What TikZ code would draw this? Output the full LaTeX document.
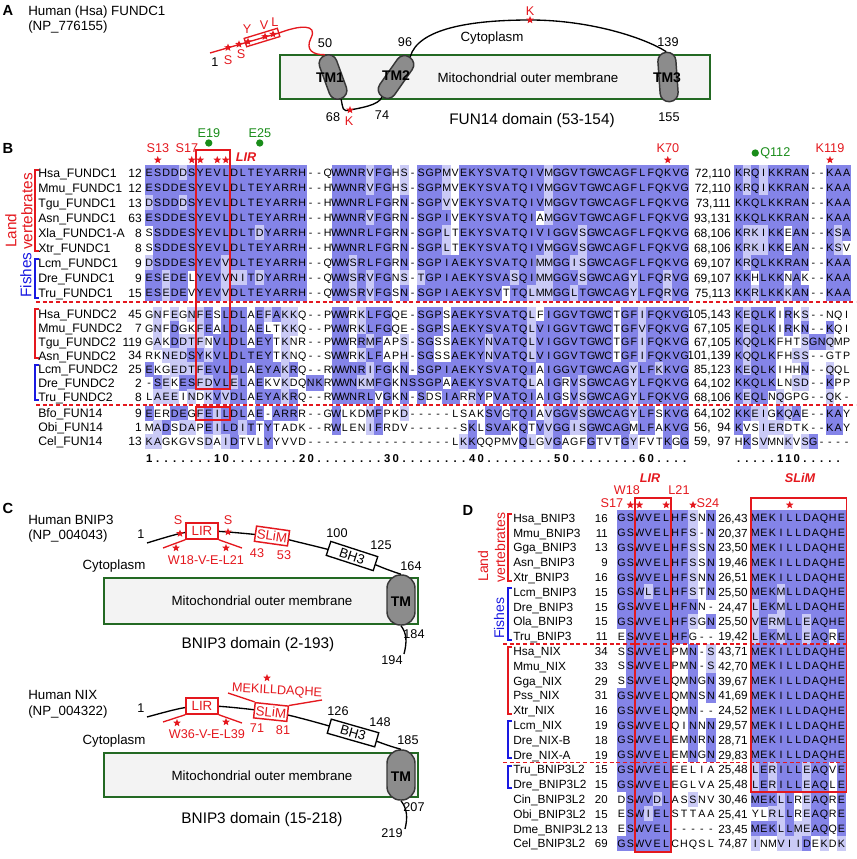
\documentclass[tikz,border=0pt]{standalone}
\usepackage{fontspec}
\setmainfont{Liberation Sans}
\usetikzlibrary{shapes.geometric}

\definecolor{alnred}{RGB}{228,24,30}
\definecolor{alnblue}{RGB}{25,25,225}
\definecolor{alngreen}{RGB}{25,140,25}
\definecolor{alndark}{RGB}{132,132,232}
\definecolor{alnlight}{RGB}{202,202,246}
\definecolor{memedge}{RGB}{35,105,35}
\definecolor{memfill}{RGB}{243,243,243}
\definecolor{tmfill}{RGB}{140,140,140}
\definecolor{tmedge}{RGB}{55,55,55}

\newcommand\alnhw{4.25}
\newcommand\alnhh{7.5}
\newcommand\alnpass{1}
\newcommand\alncell[5]{%
  \ifnum\alnpass=1
    \ifnum#5>0
      \ifnum#5=2 \def\alnc{alndark}\else\def\alnc{alnlight}\fi
      \fill[fill=\alnc] (#2-\alnhw-0.15,#3-\alnhh-0.15) rectangle (#2+\alnhw+0.15,#3+\alnhh+0.15);%
    \fi
  \else
    \node[res] (#1) at (#2,#3+3.8) {#4};%
  \fi}

\ExplSyntaxOn
\str_const:Nn \c_aln_pos_str
  { ,AS,SA,RK,KR,RQ,QR,ND,DN,NH,HN,NS,SN,DE,ED,QE,EQ,QK,KQ,EK,KE,HY,YH,IL,LI,IM,MI,IV,VI,LM,ML,LV,VL,MV,VM,FW,WF,FY,YF,ST,TS,WY,YW, }
\clist_const:Nn \c_aln_letters_clist { A,C,D,E,F,G,H,I,K,L,M,N,P,Q,R,S,T,V,W,Y }
\clist_map_inline:Nn \c_aln_letters_clist { \int_new:c { l__aln_n_#1_int } }
\seq_new:N \l__aln_y_seq
\seq_new:N \l__aln_s_seq
\tl_new:N \l__aln_row_tl
\tl_new:N \l__aln_ch_tl
\tl_new:N \l__aln_cons_tl
\tl_new:N \l__aln_y_tl
\int_new:N \l__aln_max_int
\int_new:N \l__aln_tot_int
\int_new:N \l__aln_lev_int
\int_new:N \l__aln_ncol_int
\cs_new_protected:Npn \__aln_block:nnnnnn #1#2#3#4#5#6
  {
    \seq_set_from_clist:Nn \l__aln_y_seq {#5}
    \seq_set_from_clist:Nn \l__aln_s_seq {#6}
    \tl_set:Nx \l__aln_row_tl { \seq_item:Nn \l__aln_s_seq {1} }
    \int_set:Nn \l__aln_ncol_int { \tl_count:N \l__aln_row_tl }
    \int_step_inline:nn { \l__aln_ncol_int }
      {
        \clist_map_inline:Nn \c_aln_letters_clist
          { \int_zero:c { l__aln_n_####1_int } }
        \int_zero:N \l__aln_tot_int
        \seq_map_inline:Nn \l__aln_s_seq
          {
            \tl_set:Nx \l__aln_ch_tl { \str_item:nn {####1} {##1} }
            \str_if_eq:eeF { \l__aln_ch_tl } { - }
              {
                \int_incr:c { l__aln_n_ \l__aln_ch_tl _int }
                \int_incr:N \l__aln_tot_int
              }
          }
        \int_zero:N \l__aln_max_int
        \tl_set:Nn \l__aln_cons_tl { ? }
        \clist_map_inline:Nn \c_aln_letters_clist
          {
            \int_compare:nNnT { \int_use:c { l__aln_n_####1_int } } > { \l__aln_max_int }
              {
                \int_set:Nn \l__aln_max_int { \int_use:c { l__aln_n_####1_int } }
                \tl_set:Nx \l__aln_cons_tl { \tl_to_str:n {####1} }
              }
          }
        \int_compare:nNnT { \l__aln_max_int * 100 } < { #4 * \l__aln_tot_int }
          { \tl_set:Nn \l__aln_cons_tl { ? } }
        \int_step_inline:nn { \seq_count:N \l__aln_s_seq }
          {
            \tl_set:Nx \l__aln_row_tl { \seq_item:Nn \l__aln_s_seq {####1} }
            \tl_set:Nx \l__aln_ch_tl { \str_item:Nn \l__aln_row_tl {##1} }
            \tl_set:Nx \l__aln_y_tl { \seq_item:Nn \l__aln_y_seq {####1} }
            \int_zero:N \l__aln_lev_int
            \str_if_eq:eeTF { \l__aln_ch_tl } { \l__aln_cons_tl }
              { \int_set:Nn \l__aln_lev_int {2} }
              {
                \exp_args:NNx \tl_if_in:NnT \c_aln_pos_str
                  { , \l__aln_ch_tl \l__aln_cons_tl , }
                  { \int_set:Nn \l__aln_lev_int {1} }
              }
            \use:x
              {
                \exp_not:N \alncell { #1 - ####1 - ##1 }
                  { \fp_eval:n { #2 + ( ##1 - 1 ) * ( #3 ) } }
                  { \l__aln_y_tl }
                  { \l__aln_ch_tl }
                  { \int_use:N \l__aln_lev_int }
              }
          }
      }
  }
\NewDocumentCommand \alnblock { m m m m m m }
  {
    \renewcommand \alnpass {1}
    \__aln_block:nnnnnn {#1} {#2} {#3} {#4} {#5} {#6}
    \renewcommand \alnpass {2}
    \__aln_block:nnnnnn {#1} {#2} {#3} {#4} {#5} {#6}
  }
\ExplSyntaxOff

\tikzset{
  res/.style={anchor=base, inner sep=0pt, font=\fontsize{8}{8}\selectfont},
  seqname/.style={anchor=base west, inner sep=0pt, font=\fontsize{9.2}{10}\selectfont},
  seqnum/.style={anchor=base east, inner sep=0pt, font=\fontsize{9}{10}\selectfont},
  ruler/.style={anchor=base, inner sep=0pt, font=\bfseries\fontsize{8.5}{9}\selectfont},
  panel/.style={inner sep=0pt, font=\bfseries\fontsize{11}{12}\selectfont},
  heading/.style={anchor=west, inner sep=0pt, font=\fontsize{10}{12}\selectfont},
  txt/.style={inner sep=0pt, font=\fontsize{10}{12}\selectfont},
  lbl/.style={inner sep=0pt, font=\fontsize{9.5}{11}\selectfont},
  redlbl/.style={lbl, text=alnred},
  motif/.style={inner sep=0pt, text=alnred, font=\bfseries\itshape\fontsize{9.5}{11}\selectfont},
  redstar/.style={star, star points=5, star point ratio=2.3, fill=alnred, inner sep=0pt, minimum size=6pt},
  greendot/.style={circle, fill=alngreen, inner sep=0pt, minimum size=5.5pt},
  membrane/.style={draw=memedge, fill=memfill, line width=1.1pt},
  tmpill/.style={draw=tmedge, fill=tmfill, line width=1.1pt, minimum width=13.5pt, rounded corners=6.5pt, inner sep=0pt},
  tmtext/.style={inner sep=0pt, font=\bfseries\fontsize{10.5}{12}\selectfont},
  redbox/.style={draw=alnred, line width=1.1pt, fill=white, inner sep=0pt, text=alnred, font=\fontsize{10}{12}\selectfont},
  bhbox/.style={draw, line width=1pt, fill=white, inner sep=0pt, minimum width=37pt, minimum height=11pt, font=\fontsize{10}{12}\selectfont},
  domtext/.style={inner sep=0pt, font=\fontsize{11.5}{13}\selectfont},
  backbone/.style={line width=1pt},
  sepline/.style={alnred, dash pattern=on 3pt off 2pt, line width=1pt},
  motifbox/.style={draw=alnred, line width=1.2pt},
  bracket/.style={line width=1.1pt},
  grouplbl/.style={rotate=90, anchor=west, inner sep=0pt, font=\fontsize{11.5}{12}\selectfont},
}

\begin{document}
\begin{tikzpicture}[x=0.75pt,y=-0.75pt]
\useasboundingbox (0,0) rectangle (856,859);

\node[panel] (pA) at (8,10) {A};
\node[heading] (tA1) at (28,12) {Human (Hsa) FUNDC1};
\node[heading] (tA2) at (28,27) {(NP\_776155)};
\draw[membrane] (280,55) rectangle (710,99);
\node[txt] (memA) at (528,78) {Mitochondrial outer membrane};
\node[txt] (cytA) at (492,38) {Cytoplasm};
\node[domtext] (domA) at (532,121) {FUN14 domain (53-154)};
\node[tmpill, minimum height=34.5pt, rotate=20] (tm1) at (333,77) {};
\node[tmpill, minimum height=36pt, rotate=-35] (tm2) at (396,77) {};
\node[tmpill, minimum height=37pt, rotate=4] (tm3) at (668,77) {};
\node[tmtext] (tm1l) at (330,78) {TM1};
\node[tmtext] (tm2l) at (396,76) {TM2};
\node[tmtext] (tm3l) at (667,78) {TM3};
\coordinate (ntA) at (210,53);
\coordinate (kA1) at (350,110);
\coordinate (kA2) at (530,20);
\draw[backbone, alnred] (ntA) -- (279,33) .. controls (300,25) and (318,24) .. (311,38) .. controls (305,50) and (313,55) .. (tm1.north);
\draw[backbone] (tm1.south) .. controls +(2,9) and +(-8,2) .. (kA1) .. controls +(10,-2) and +(-3,8) .. (tm2.south);
\draw[backbone] (tm2.north) .. controls +(8,-28) and +(-60,0) .. (kA2) .. controls +(60,0) and +(-22,-14) .. (tm3.north);
\foreach \x/\y/\n in {228/47.6/1, 239/44.3/2, 248/41.7/3, 265/36.6/4, 273/34.2/5}
  \node[redstar] (sA\n) at (\x,\y) {};
\node[redstar] (sk1) at (kA1) {};
\node[redstar] (sk2) at (kA2) {};
\node[draw=alnred, line width=1pt, minimum width=26pt, minimum height=6.5pt, inner sep=0pt, rotate=17] (lirA) at (262,37.5) {};
\node[redlbl] (lS1) at (228,60) {S};
\node[redlbl] (lS2) at (241,54) {S};
\node[redlbl] (lY) at (247,29) {Y};
\node[redlbl] (lV) at (264,25) {V};
\node[redlbl] (lL) at (275,22) {L};
\node[redlbl] (lK1) at (349,121) {K};
\node[redlbl] (lK2) at (530,11) {K};
\node[lbl] (n1A) at (215,62) {1};
\node[lbl] (n50) at (325,43) {50};
\node[lbl] (n96) at (405,42) {96};
\node[lbl] (n139) at (668,42) {139};
\node[lbl] (n68) at (333,117) {68};
\node[lbl] (n74) at (382,115) {74};
\node[lbl] (n155) at (669,117) {155};

\node[panel] (pB) at (8,148) {B};
\foreach \y/\nm/\st/\rg [count=\i] in {173/Hsa\_FUNDC1/12/{72,110}, 188/Mmu\_FUNDC1/12/{72,110}, 203/Tgu\_FUNDC1/13/{73,111}, 218/Asn\_FUNDC1/63/{93,131}, 233/Xla\_FUNDC1-A/8/{68,106}, 248/Xtr\_FUNDC1/8/{68,106}, 263/Lcm\_FUNDC1/9/{69,107}, 278/Dre\_FUNDC1/9/{69,107}, 293/Tru\_FUNDC1/15/{75,113}, 314.5/Hsa\_FUNDC2/45/{105,143}, 328.2/Mmu\_FUNDC2/7/{67,105}, 341.9/Tgu\_FUNDC2/119/{67,105}, 355.6/Asn\_FUNDC2/34/{101,139}, 369.3/Lcm\_FUNDC2/25/{85,123}, 383/Dre\_FUNDC2/2/{64,102}, 396.7/Tru\_FUNDC2/8/{68,106}, 413.5/Bfo\_FUN14/9/{64,102}, 427.5/Obi\_FUN14/1/{56,\phantom{1}94}, 441.5/Cel\_FUN14/13/{59,\phantom{1}97}}{
  \node[seqname] (bn\i) at (38,\y+4.4) {\nm};
  \node[seqnum] (bs\i) at (142,\y+4.3) {\st};
  \node[seqnum] (br\i) at (731,\y+4.3) {\rg};
}
\alnblock{ba}{149.25}{8.5}{30}{173,188,203,218,233,248,263,278,293,314.5,328.2,341.9,355.6,369.3,383,396.7,413.5,427.5,441.5}{
ESDDDSYEVLDLTEYARRH--QWWNRVFGHS-SGPMVEKYSVATQIVMGGVTGWCAGFLFQKVG,
ESDDESYEVLDLTEYARRH--HWWNRVFGHS-SGPMVEKYSVATQIVMGGVTGWCAGFLFQKVG,
DSDDDSYEVLDLTEYARRH--HWWNRLFGRN-SGPVVEKYSVATQIVMGGVTGWCAGFLFQKVG,
ESDDESYEVLDLTEYARRH--HWWNRVFGRN-SGPIVEKYSVATQIAMGGVTGWCAGFLFQKVG,
SSDDESYEVLDLTDYARRH--HWWNRLFGRN-SGPLTEKYSVATQIVIGGVSGWCAGFLFQKVG,
SSDDESYEVLDLTEYARRH--HWWNRLFGRN-SGPLTEKYSVATQIVMGGVSGWCAGFLFQKVG,
DSDDESYEVVDLTEYARRH--QWWSRLFGRN-SGPIAEKYSVATQIMMGGISGWCAGFLFQKVG,
ESEDELYEVVNITDYARRH--QWWSRVFGNS-TGPIAEKYSVASQIMMGGVSGWCAGYLFQRVG,
ESEDEVYEVVDLTEYARRH--QWWSRVFGSN-SGPIAEKYSVTTQLMMGGLTGWCAGYLFQRVG,
GNFEGNFESLDLAEFAKKQ--PWWRKLFGQE-SGPSAEKYSVATQLFIGGVTGWCTGFIFQKVG,
GNFDGKFEALDLAELTKKQ--PWWRKLFGQE-SGPSAEKYSVATQLVIGGVTGWCTGFVFQKVG,
GAKDDTFNVLDLAEYTKNR--PWWRRMFAPS-SGSSAEKYNVATQLVIGGVTGWCTGFIFQKVG,
RKNEDSYKVLDLTEYTKNQ--SWWRKLFAPH-SGSSAEKYNVATQLVIGGVTGWCTGFIFQKVG,
EKGEDTFEVLDLAEYAKRQ--RWWNRIFGKN-SGPIAEKYSVATQIAIGGVTGWCAGYLFKKVG,
-SEKESFDVLELAEKVKDQNKRWWNKMFGKNSSGPAAEKYSVATQLAIGRVSGWCAGYLFQKVG,
LAEEINDKVVDLAEYAKRQ--RWWNRLVGKN-SDSIARRYPVATQIAIGSVSGWCAGYLFQKVG,
EERDEGFEILDLAE-ARRR--GWLKDMFPKD-----LSAKSVGTQIAVGGVSGWCAGYLFSKVG,
MADSDAPEILDITTYTADK--RWLENIFRDV------SKLSVAKQTVVGGISGWCAGMLFAKVG,
KAGKGVSDAIDTVLYYVVD-----------------LKKQQPMVQLGVGAGFGTVTGYFVTKGG}
\renewcommand\alnhw{4.15}
\alnblock{bb}{738.65}{8.3}{30}{173,188,203,218,233,248,263,278,293,314.5,328.2,341.9,355.6,369.3,383,396.7,413.5,427.5,441.5}{
KRQIKKRAN--KAA, KRQIKKRAN--KAA, KKQLKKRAN--KAA, KKQLKKRAN--KAA, KRKIKKEAN--KSA,
KRKIKKEAN--KSV, KRQLKKRAN--KAA, KKHLKKNAK--KAA, KKRLKKKAN--KAA, KEQLKIRKS--NQI,
KEQLKIRKN--KQI, KQQLKFHTSGNQMP, KQQLKFHSS--GTP, KEQLKIHHN--QQL, KKQLKLNSD--KPP,
KEQLNQGPG--QK-, KKEIGKQAE--KAY, KVSIERDTK--KAY, HKSVMNKVSG----}
\foreach \c in {1,...,64}{
  \pgfmathtruncatemacro\rmod{mod(\c,10)}
  \pgfmathtruncatemacro\rten{(\c+1)/10}
  \ifnum\c=1 \def\rc{1}\else\ifnum\rmod=0 \def\rc{0}\else\ifnum\rmod=9 \edef\rc{\rten}\else\def\rc{.}\fi\fi\fi
  \node[ruler] (ra\c) at ({149.25+(\c-1)*8.5},462) {\rc};
}
\foreach \c/\rc in {1/., 2/., 3/., 4/., 5/., 6/1, 7/1, 8/0, 9/., 10/., 11/., 12/., 13/.}
  \node[ruler] (rb\c) at ({738.65+(\c-1)*8.3},462) {\rc};
\draw[sepline] (36,302) -- (856,302);
\draw[sepline] (36,405) -- (856,405);
\draw[motifbox] (196,150) rectangle (230,389);
\draw[motifbox] (196,407) rectangle (230,420);
\draw[bracket, alnred] (39,170) -- (35,170) -- (35,251) -- (39,251);
\draw[bracket, alnblue] (39,259) -- (35,259) -- (35,298) -- (39,298);
\draw[bracket, alnred] (39,309) -- (35,309) -- (35,358) -- (39,358);
\draw[bracket, alnblue] (39,365) -- (35,365) -- (35,400) -- (39,400);
\node[grouplbl, text=alnred] (landB) at (11,248) {Land};
\node[grouplbl, text=alnred] (vertB) at (27,250) {vertebrates};
\node[grouplbl, text=alnblue] (fishB) at (26,298) {Fishes};
\node[redlbl] (s13) at (158,148) {S13};
\node[redlbl] (s17) at (187,148) {S17};
\node[redlbl] (k70) at (668,148) {K70};
\node[redlbl] (k119) at (830,148) {K119};
\node[motif] (lirBl) at (246,157) {LIR};
\foreach \x [count=\n] in {157.75,191.75,200.25,217.25,225.75,667.75,829.95}
  \node[redstar] (sB\n) at (\x,160) {};
\node[greendot] (gE19) at (208.75,143) {};
\node[greendot] (gE25) at (259.75,143) {};
\node[greendot] (gQ112) at (755.25,153) {};
\node[lbl, text=alngreen] (lE19) at (209,133) {E19};
\node[lbl, text=alngreen] (lE25) at (260,133) {E25};
\node[lbl, text=alngreen, anchor=west] (lQ112) at (760,153) {Q112};

\node[panel] (pC) at (8,508) {C};
\node[heading] (tC1) at (28,520) {Human BNIP3};
\node[heading] (tC2) at (28,536) {(NP\_004043)};
\draw[membrane] (104,578) rectangle (418,624);
\node[txt] (memC) at (262,601) {Mitochondrial outer membrane};
\node[txt] (cytC) at (114,566) {Cytoplasm};
\node[domtext] (domC) at (258,645) {BNIP3 domain (2-193)};
\node[tmpill, minimum width=21pt, minimum height=37.5pt, rounded corners=10pt] (tmC) at (401,600) {};
\node[tmtext] (tmCl) at (401,602) {TM};
\coordinate (ntC) at (147,543);
\coordinate (ctC) at (404,654);
\draw[backbone] plot[smooth, tension=0.6] coordinates {(ntC) (180,533.5) (202,531) (228,532) (272,536.5) (300,542.5) (352,556) (386,569) (tmC.north)};
\draw[backbone] (tmC.south) .. controls +(6,8) and +(3,-12) .. (ctC);
\node[redbox, minimum width=24pt, minimum height=12pt] (lirC) at (202,531) {LIR};
\node[redbox, minimum width=25pt, minimum height=11.5pt, rotate=-8] (slimC) at (272,536) {SLiM};
\node[bhbox, rotate=-18] (bh3C) at (352,556) {BH3};
\coordinate (cl1) at (163,548);
\coordinate (cl2) at (242,548);
\draw[alnred, line width=1pt] (lirC.south west) -- (cl1);
\draw[alnred, line width=1pt] (lirC.south east) -- (cl2);
\node[redstar] (sC1) at (180,533.5) {};
\node[redstar] (sC2) at (228,532) {};
\node[redstar] (sC3) at (176,548) {};
\node[redstar] (sC4) at (226,548) {};
\node[redlbl] (lSC1) at (178,520) {S};
\node[redlbl] (lSC2) at (228,520) {S};
\node[redlbl] (wC) at (206,560) {W18-V-E-L21};
\node[redlbl] (n43) at (257,553) {43};
\node[redlbl] (n53) at (284,555) {53};
\node[lbl] (n1C) at (141,534) {1};
\node[lbl] (n100) at (337,533) {100};
\node[lbl] (n125) at (381,545) {125};
\node[lbl] (n164) at (411,566) {164};
\node[lbl] (n184) at (414,634) {184};
\node[lbl] (n194) at (392,660) {194};

\node[heading] (tN1) at (28,695) {Human NIX};
\node[heading] (tN2) at (28,712) {(NP\_004322)};
\draw[membrane] (104,753) rectangle (418,797);
\node[txt] (memN) at (262,776) {Mitochondrial outer membrane};
\node[txt] (cytN) at (114,741) {Cytoplasm};
\node[domtext] (domN) at (262,820) {BNIP3 domain (15-218)};
\node[tmpill, minimum width=21pt, minimum height=37.5pt, rounded corners=10pt] (tmN) at (401,775) {};
\node[tmtext] (tmNl) at (401,777) {TM};
\coordinate (ntN) at (147,717);
\coordinate (ctN) at (405,829);
\draw[backbone] plot[smooth, tension=0.6] coordinates {(ntN) (180,708.5) (202,706) (228,707) (271,712) (300,718) (353,733) (387,745) (tmN.north)};
\draw[backbone] (tmN.south) .. controls +(6,8) and +(3,-12) .. (ctN);
\node[redbox, minimum width=24pt, minimum height=12pt] (lirN) at (202,706) {LIR};
\node[redbox, minimum width=25pt, minimum height=11.5pt, rotate=-6] (slimN) at (271,712) {SLiM};
\node[bhbox, rotate=-16] (bh3N) at (353,733) {BH3};
\coordinate (nl1) at (163,722);
\coordinate (nl2) at (242,723);
\coordinate (nl3) at (228,693);
\coordinate (nl4) at (322,700);
\draw[alnred, line width=1pt] (lirN.south west) -- (nl1);
\draw[alnred, line width=1pt] (lirN.south east) -- (nl2);
\draw[alnred, line width=1pt] (slimN.north west) -- (nl3);
\draw[alnred, line width=1pt] (slimN.north east) -- (nl4);
\node[redstar] (sN1) at (177,723) {};
\node[redstar] (sN2) at (226,722) {};
\node[redstar] (sN3) at (267,678) {};
\node[redlbl] (wN) at (207,734) {W36-V-E-L39};
\node[redlbl, rotate=-3] (mekN) at (277,691) {MEKILLDAQHE};
\node[redlbl] (n71) at (257,728) {71};
\node[redlbl] (n81) at (283,730) {81};
\node[lbl] (n1N) at (141,708) {1};
\node[lbl] (n126) at (338,711) {126};
\node[lbl] (n148) at (380,722) {148};
\node[lbl] (n185) at (408,740) {185};
\node[lbl] (n207) at (414,807) {207};
\node[lbl] (n219) at (392,833) {219};

\node[panel] (pD) at (468,510) {D};
\foreach \nm/\st/\rg [count=\i from 0] in {Hsa\_BNIP3/16/{26,43}, Mmu\_BNIP3/11/{20,37}, Gga\_BNIP3/13/{23,50}, Asn\_BNIP3/9/{19,46}, Xtr\_BNIP3/16/{26,51}, Lcm\_BNIP3/15/{25,50}, Dre\_BNIP3/15/{24,47}, Ola\_BNIP3/15/{25,50}, Tru\_BNIP3/11/{19,42}, Hsa\_NIX/34/{43,71}, Mmu\_NIX/33/{42,70}, Gga\_NIX/29/{39,67}, Pss\_NIX/31/{41,69}, Xtr\_NIX/16/{24,52}, Lcm\_NIX/19/{29,57}, Dre\_NIX-B/18/{28,71}, Dre\_NIX-A/19/{29,83}, Tru\_BNIP3L2/15/{25,48}, Dre\_BNIP3L2/15/{25,48}, Cin\_BNIP3L2/20/{30,46}, Obi\_BNIP3L2/15/{25,41}, Dme\_BNIP3L2/13/{23,45}, Cel\_BNIP3L2/69/{74,87}}{
  \pgfmathsetmacro\dy{518+14.8*\i}
  \node[seqname, font=\fontsize{8.9}{10}\selectfont] (dn\i) at (513,\dy+4.3) {\nm};
  \node[seqnum, font=\fontsize{8.6}{10}\selectfont] (ds\i) at (608,\dy+4.2) {\st};
  \node[seqnum, font=\fontsize{8.8}{10}\selectfont] (dr\i) at (748,\dy+4.2) {\rg};
}
\renewcommand\alnhw{4.47}
\renewcommand\alnhh{7.4}
\alnblock{da}{621.5}{8.94}{30}{518,532.8,547.6,562.4,577.2,592,606.8,621.6,636.4,651.2,666,680.8,695.6,710.4,725.2,740,754.8,769.6,784.4,799.2,814,828.8,843.6}{
GSWVELHFSNN, GSWVELHFS-N, GSWVELHFSSN, GSWVELHFSSN, GSWVELHFSNN, GSWLELHFSTN,
GSWVELHFNN-, GSWVELHFSGN, ESWVELHFG--, SSWVELPMN-S, SSWVELPMN-S, SSWVELQMNGN,
GSWVELQMNSN, GSWVELQMN--, GSWVELQINNN, GSWVELEMNRN, GSWVELEMNGN, GSWVELEELIA,
GSWVELEGLVA, DSWVDLASSNV, ESWIELSTTAA, ESWVEL-----, GSWVELCHQSL}
\renewcommand\alnhw{4.3}
\alnblock{db}{755.3}{8.6}{30}{518,532.8,547.6,562.4,577.2,592,606.8,621.6,636.4,651.2,666,680.8,695.6,710.4,725.2,740,754.8,769.6,784.4,799.2,814,828.8,843.6}{
MEKILLDAQHE, MEKILLDAQHE, MEKILLDAQHE, MEKILLDAQHE, MEKILLDAQHE, MEKMLLDAQHE,
LEKMLLDAQHE, VERMLLEAQHE, LEKMLLEAQRE, MEKILLDAQHE, MEKILLDAQHE, MEKILLDAQHE,
MEKILLDAQHE, MEKILLDAQHE, MEKILLDAQHE, MEKILLDAQHE, MEKILLDAQHE, LERILLEAQVE,
LERILLEAQLE, MEKLLREAQRE, YLRLLREAQRE, MEKLLMEAQQE, INMVIIDEKDK}
\draw[sepline] (503,644) -- (848,644);
\draw[sepline] (503,762.5) -- (848,762.5);
\draw[motifbox] (635,498) rectangle (670.7,852);
\draw[motifbox] (751,498) rectangle (846.5,792);
\draw[bracket, alnred] (512,514) -- (508,514) -- (508,581) -- (512,581);
\draw[bracket, alnblue] (512,588) -- (508,588) -- (508,640) -- (512,640);
\draw[bracket, alnred] (512,647) -- (508,647) -- (508,714) -- (512,714);
\draw[bracket, alnblue] (512,721) -- (508,721) -- (508,758) -- (512,758);
\draw[bracket, alnblue] (512,766) -- (508,766) -- (508,788) -- (512,788);
\node[grouplbl, text=alnred, font=\fontsize{10.5}{11}\selectfont] (landD) at (483,582) {Land};
\node[grouplbl, text=alnred, font=\fontsize{10.5}{11}\selectfont] (vertD) at (500,583) {vertebrates};
\node[grouplbl, text=alnblue, font=\fontsize{10.5}{11}\selectfont] (fishD) at (499,639) {Fishes};
\node[motif] (lirDl) at (650,478) {LIR};
\node[motif] (slimDl) at (800,478) {SLiM};
\node[redlbl] (w18) at (627,490) {W18};
\node[redlbl] (l21) at (679,490) {L21};
\node[redlbl] (s17D) at (612,503) {S17};
\node[redlbl] (s24) at (708,503) {S24};
\foreach \x [count=\n] in {630.4,639.4,666.2,693.0,789.7}
  \node[redstar] (sD\n) at (\x,505) {};
\end{tikzpicture}
\end{document}
